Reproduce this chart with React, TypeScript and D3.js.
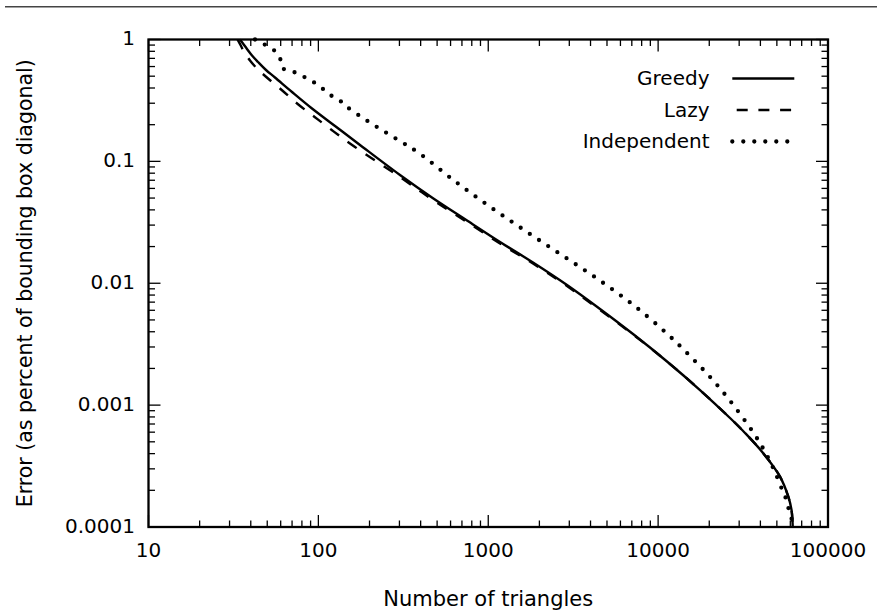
import React from "react";
import * as d3 from "d3";

// ---- Data ----
const SERIES_NAMES = ["Greedy", "Lazy", "Independent"];

const greedyX = [34.56, 36.0, 38.0, 40.68, 44.12, 49.17, 55.53, 69.94, 91.73, 125.3, 175.8, 302.3, 473, 749.8, 1173, 1834, 2908, 4549, 7115, 11280, 17640, 26500, 32470, 41440, 52180, 58390, 60990, 61810, 61980];
const greedyY = [1, 0.927, 0.836, 0.739, 0.654, 0.562, 0.488, 0.371, 0.2716, 0.1951, 0.1363, 0.0773, 0.0498, 0.0327, 0.0218, 0.0148, 0.00967, 0.00615, 0.00383, 0.00228, 0.00133, 0.000784, 0.000591, 0.000405, 0.000259, 0.0001772, 0.0001379, 0.0001105, 0.0001];

const lazyX = [33.42, 34.8, 36.74, 39.58, 43.52, 48.97, 60.83, 75.55, 94.62, 119.8, 164.3, 302.3, 473, 749.8, 1173, 1834, 2908, 4549, 7115, 11280, 17640, 26500, 32470, 41440, 52180, 58390, 60990, 61810, 61980];
const lazyY = [1, 0.901, 0.782, 0.673, 0.578, 0.497, 0.385, 0.2956, 0.2326, 0.1809, 0.1312, 0.0744, 0.0482, 0.0318, 0.0212, 0.01453, 0.00949, 0.00603, 0.0038, 0.00228, 0.00133, 0.000784, 0.000591, 0.000405, 0.000259, 0.0001772, 0.0001379, 0.0001105, 0.0001];

const indepX = [42.36, 48.05, 54.8, 59.44, 61.32, 69.66, 79.78, 91.35, 103.6, 115.5, 131.0, 146.8, 185.6, 237.8, 306.4, 392.8, 622.8, 1010, 1646, 2706, 4410, 7145, 11230, 15400, 20960, 27710, 36040, 42010, 48100, 53830, 57140, 59190, 61650, 61810];
const indepY = [1, 0.913, 0.816, 0.701, 0.584, 0.551, 0.505, 0.4566, 0.4054, 0.3551, 0.3231, 0.2809, 0.2239, 0.1799, 0.145, 0.1165, 0.0703, 0.043, 0.027, 0.01705, 0.01083, 0.00663, 0.00388, 0.00253, 0.00161, 0.001002, 0.000605, 0.000428, 0.000294, 0.000201, 0.0001643, 0.0001335, 0.0001105, 0.0001];

const X_TICKS = [10, 100, 1000, 10000, 100000];
const X_TICK_LABELS = ["10", "100", "1000", "10000", "100000"];
const Y_TICKS = [1, 0.1, 0.01, 0.001, 0.0001];
const Y_TICK_LABELS = ["1", "0.1", "0.01", "0.001", "0.0001"];

const X_LABEL = "Number of triangles";
const Y_LABEL = "Error (as percent of bounding box diagonal)";

// ---- Layout ----
const W = 877;
const H = 612;
const L = 148.5, R = 828, T = 39.5, B = 527;
const FONT = "'DejaVu Sans', sans-serif";

export default function App() {
  const x = d3.scaleLog().domain([10, 100000]).range([L, R]);
  const y = d3.scaleLog().domain([0.0001, 1]).range([B, T]);

  const xMinor = x.ticks().filter((t) => !X_TICKS.some((m) => Math.abs(m - t) / m < 1e-9));
  const yMinor = y.ticks().filter((t) => !Y_TICKS.some((m) => Math.abs(m - t) / m < 1e-9));

  const line = d3
    .line<[number, number]>()
    .x((d) => x(d[0]))
    .y((d) => y(d[1]))
    .curve(d3.curveCatmullRom.alpha(0.5));

  const zip = (xs: number[], ys: number[]) => xs.map((v, i) => [v, ys[i]] as [number, number]);
  const greedyPath = line(zip(greedyX, greedyY)) || "";
  const lazyPath = line(zip(lazyX, lazyY)) || "";
  const indepPath = line(zip(indepX, indepY)) || "";

  const MAJ = 12;
  const MIN = 6.5;
  const tickStroke = { stroke: "#000", strokeWidth: 1.3 };

  const legendY = [78.5, 110, 141.5];
  const legendTextX = 709.5;
  const legendLineX0 = 732.3;
  const legendLineX1 = 794.3;

  const solidStyle = { fill: "none", stroke: "#000", strokeWidth: 2.4 };
  const dashStyle = { fill: "none", stroke: "#000", strokeWidth: 2.4, strokeDasharray: "11 10.7" };
  const dotStyle = { fill: "none", stroke: "#000", strokeWidth: 4.3, strokeLinecap: "round" as const, strokeDasharray: "0 11" };

  return (
    <svg
      width={W}
      height={H}
      viewBox={`0 0 ${W} ${H}`}
      style={{ position: "absolute", left: 0, top: 0, background: "#fff" }}
    >
      <rect x={0} y={0} width={W} height={H} fill="#fff" />
      {/* top rule */}
      <line x1={5} x2={W} y1={6.7} y2={6.7} stroke="#444" strokeWidth={1.6} />

      {/* curves */}
      <path d={indepPath} style={dotStyle} />
      <path d={lazyPath} style={dashStyle} />
      <path d={greedyPath} style={solidStyle} />

      {/* minor ticks */}
      {xMinor.map((t, i) => (
        <g key={"xm" + i}>
          <line x1={x(t)} x2={x(t)} y1={B} y2={B - MIN} {...tickStroke} />
          <line x1={x(t)} x2={x(t)} y1={T} y2={T + MIN} {...tickStroke} />
        </g>
      ))}
      {yMinor.map((t, i) => (
        <g key={"ym" + i}>
          <line x1={L} x2={L + MIN} y1={y(t)} y2={y(t)} {...tickStroke} />
          <line x1={R} x2={R - MIN} y1={y(t)} y2={y(t)} {...tickStroke} />
        </g>
      ))}
      {/* major ticks + labels */}
      {X_TICKS.map((t, i) => (
        <g key={"xM" + i}>
          <line x1={x(t)} x2={x(t)} y1={B} y2={B - MAJ} {...tickStroke} />
          <line x1={x(t)} x2={x(t)} y1={T} y2={T + MAJ} {...tickStroke} />
          <text x={x(t)} y={556.5} textAnchor="middle" fontFamily={FONT} fontSize={20} fill="#000">
            {X_TICK_LABELS[i]}
          </text>
        </g>
      ))}
      {Y_TICKS.map((t, i) => (
        <g key={"yM" + i}>
          <line x1={L} x2={L + MAJ} y1={y(t)} y2={y(t)} {...tickStroke} />
          <line x1={R} x2={R - MAJ} y1={y(t)} y2={y(t)} {...tickStroke} />
          <text x={135} y={y(t) + 5.5} textAnchor="end" fontFamily={FONT} fontSize={20} fill="#000">
            {Y_TICK_LABELS[i]}
          </text>
        </g>
      ))}

      {/* frame */}
      <rect x={L} y={T} width={R - L} height={B - T} fill="none" stroke="#000" strokeWidth={2.3} />

      {/* axis labels */}
      <text x={(L + R) / 2} y={606} textAnchor="middle" fontFamily={FONT} fontSize={21} fill="#000">
        {X_LABEL}
      </text>
      <text
        transform={`translate(31.5, ${(T + B) / 2}) rotate(-90)`}
        textAnchor="middle"
        fontFamily={FONT}
        fontSize={20.5}
        fill="#000"
      >
        {Y_LABEL}
      </text>

      {/* legend */}
      {SERIES_NAMES.map((name, i) => (
        <text key={"lt" + i} x={legendTextX} y={legendY[i] + 6.5} textAnchor="end" fontFamily={FONT} fontSize={20} fill="#000">
          {name}
        </text>
      ))}
      <line x1={legendLineX0} x2={legendLineX1} y1={legendY[0]} y2={legendY[0]} style={solidStyle} />
      <line x1={legendLineX0} x2={legendLineX1} y1={legendY[1]} y2={legendY[1]} style={{ ...dashStyle, strokeDashoffset: 17.3 }} />
      <line x1={legendLineX0} x2={legendLineX1 + 2} y1={legendY[2]} y2={legendY[2]} style={dotStyle} />
    </svg>
  );
}
